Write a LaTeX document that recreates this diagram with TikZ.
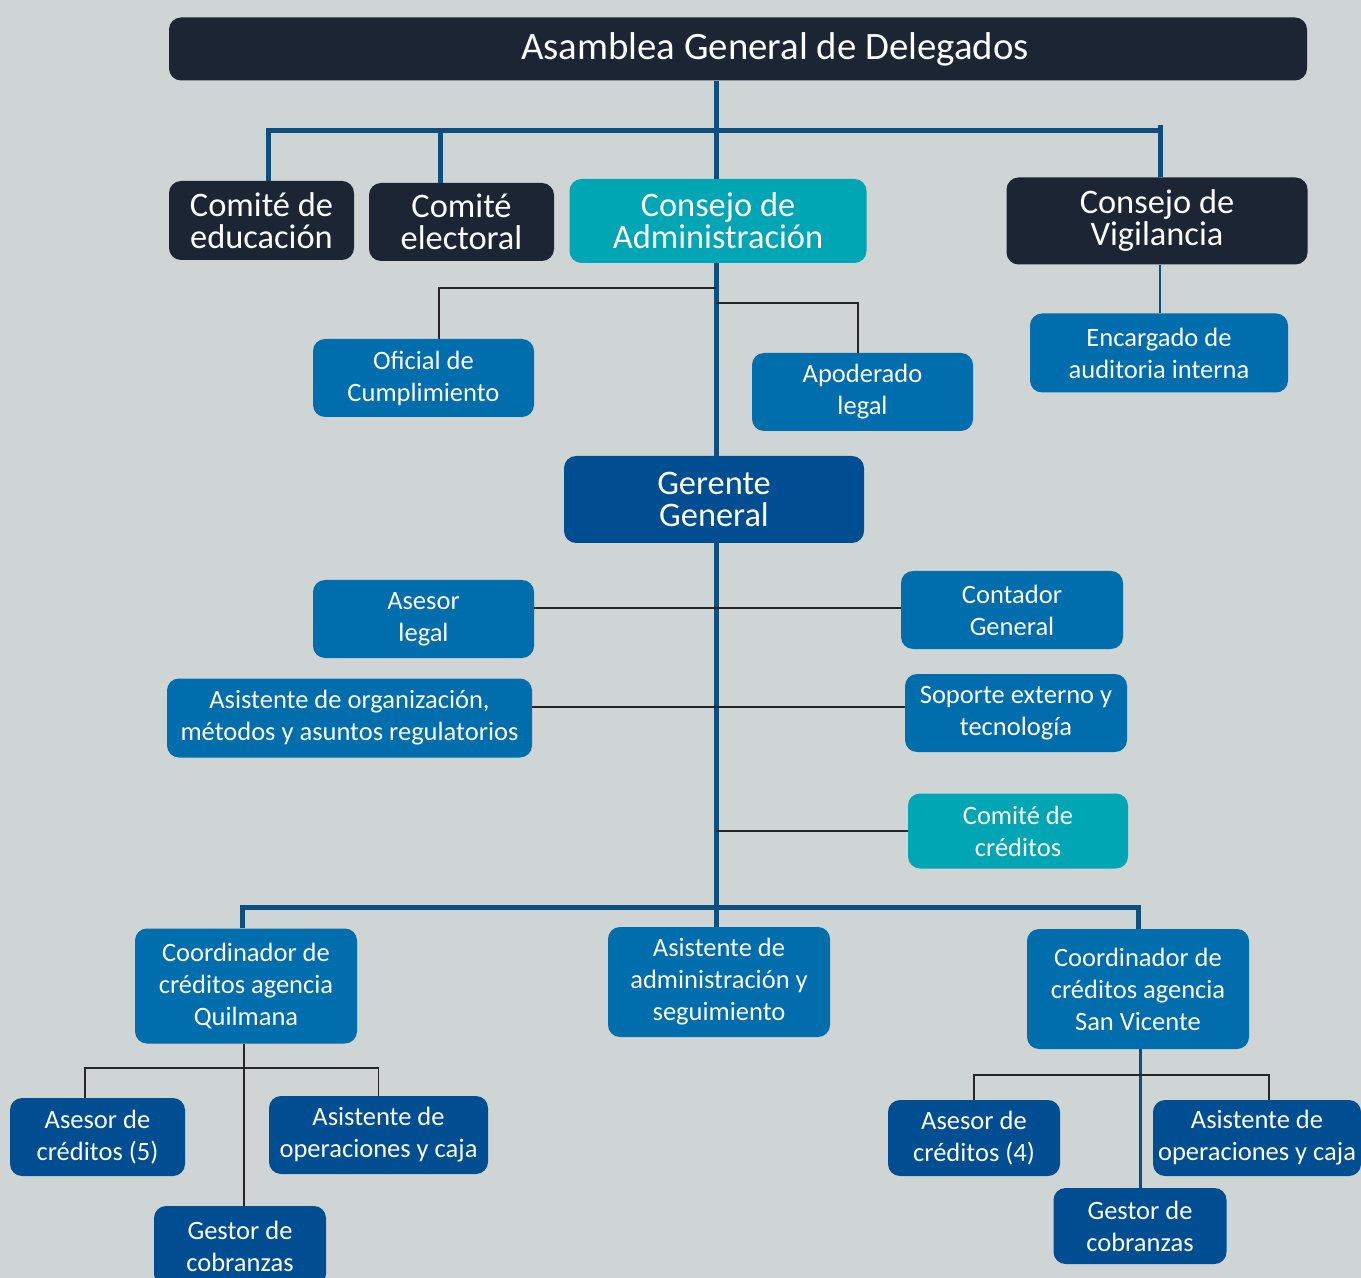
\documentclass[tikz,border=0pt]{standalone}
\usepackage{fontspec}
\setmainfont{Carlito}
\definecolor{fondo}{HTML}{CFD5D5}
\definecolor{oscuro}{HTML}{1B2533}
\definecolor{turquesa}{HTML}{00A6B4}
\definecolor{azul}{HTML}{006DAD}
\definecolor{azulos}{HTML}{004E92}
\definecolor{linea}{HTML}{0C4F7E}
\tikzset{
    caja/.style={rounded corners=6pt, text=white, align=center, inner xsep=1pt, inner ysep=2pt}, % base of every box
    titulo/.style={caja, fill=oscuro, font=\fontsize{19.4}{22}\selectfont},
    directivo/.style={caja, fill=oscuro, font=\fontsize{17.2}{16}\selectfont},
    consejo/.style={caja, fill=turquesa, font=\fontsize{17.2}{16}\selectfont},
    gerencia/.style={caja, fill=azulos, font=\fontsize{17.2}{16}\selectfont},
    unidad/.style={caja, fill=azul, font=\fontsize{13.25}{16}\selectfont},
    comite/.style={caja, fill=turquesa, font=\fontsize{13.25}{16}\selectfont},
    agencia/.style={caja, fill=azulos, font=\fontsize{13.25}{16}\selectfont},
    troncal/.style={draw=linea, line width=2.5pt}, % thick main lines
    rama/.style={draw=black!85, line width=0.7pt}, % thin side lines
}
\begin{document}
\begin{tikzpicture}[x=0.5pt, y=-0.5pt]
    \fill[fondo] (0,0) rectangle (1361,1278);
    \useasboundingbox (0,0) rectangle (1361,1278);

    \node[titulo, minimum width=569pt, minimum height=31.5pt] (asam) at (738,49) {\hspace*{37pt}Asamblea General de Delegados};

    \node[directivo, minimum width=92.5pt, minimum height=39.5pt] (edu) at (261.5,220.5) {Comité de\\educación};
    \node[directivo, minimum width=92.5pt, minimum height=39pt] (ele) at (461.5,222) {Comité\\electoral};
    \node[consejo, minimum width=148.5pt, minimum height=42pt] (adm) at (718,221) {Consejo de\\Administración};
    \node[directivo, minimum width=150.5pt, minimum height=43.5pt] (vig) at (1157,221) {Consejo de\\Vigilancia};

    \node[unidad, minimum width=129pt, minimum height=39.5pt] (enc) at (1159,353) {Encargado de\\auditoria interna};
    \node[unidad, minimum width=110.5pt, minimum height=39pt] (ofi) at (423.5,378) {Oficial de\\Cumplimiento};
    \node[unidad, minimum width=110.5pt, minimum height=39pt] (apo) at (862.5,392) {Apoderado\\legal};

    \node[gerencia, minimum width=150pt, minimum height=43.5pt] (ger) at (714,499.5) {Gerente\\General};

    \node[unidad, minimum width=110.5pt, minimum height=39pt] (ase) at (423.5,619) {Asesor\\legal};
    \node[unidad, minimum width=111pt, minimum height=39pt] (con) at (1012,610) {Contador\\General};
    \node[unidad, minimum width=182.5pt, minimum height=39.5pt] (org) at (349.5,718) {Asistente de organización,\\métodos y asuntos regulatorios};
    \node[unidad, minimum width=111pt, minimum height=39pt] (sop) at (1016,713) {Soporte externo y\\tecnología};
    \node[comite, minimum width=110pt, minimum height=37.5pt] (cre) at (1018,831) {Comité de\\créditos};

    \node[unidad, minimum width=111pt, minimum height=57.5pt] (qui) at (246,986) {Coordinador de\\créditos agencia\\Quilmana};
    \node[unidad, minimum width=111pt, minimum height=55pt] (asi) at (719,982) {Asistente de\\administración y\\seguimiento};
    \node[unidad, minimum width=111pt, minimum height=60pt] (svi) at (1138,989) {Coordinador de\\créditos agencia\\San Vicente};

    \node[agencia, minimum width=87.5pt, minimum height=39pt] (ac5) at (97.5,1137) {Asesor de\\créditos (5)};
    \node[agencia, minimum width=109.5pt, minimum height=39pt] (ao1) at (378.5,1135) {Asistente de\\operaciones y caja};
    \node[agencia, minimum width=86pt, minimum height=40pt] (gl) at (240,1246) {Gestor de\\cobranzas};
    \node[agencia, minimum width=86pt, minimum height=38pt] (ac4) at (974,1138) {Asesor de\\créditos (4)};
    \node[agencia, minimum width=104pt, minimum height=38pt] (ao2) at (1257,1138) {Asistente de\\operaciones y caja};
    \node[agencia, minimum width=86.5pt, minimum height=38pt] (gr) at (1140,1226) {Gestor de\\cobranzas};

    % main trunk
    \coordinate (barra) at (716,131);
    \coordinate (tope) at (1160,125);
    \coordinate (barra2) at (716,907);
    \coordinate (eje) at (716,0);
    \draw[troncal] (eje |- asam.south) -- (eje |- adm.north);
    \draw[troncal] ([xshift=3.25pt]edu.north) |- (barra) -| (tope |- vig.north);
    \draw[troncal] (tope) -- (tope |- vig.north);
    \draw[troncal] ([xshift=-10.75pt]ele.north) -- ([xshift=-10.75pt]ele.north |- barra);
    \draw[troncal] (eje |- adm.south) -- (eje |- ger.north);
    \draw[troncal] (eje |- ger.south) -- (eje |- asi.north);
    \draw[troncal] ([xshift=-2pt]qui.north) |- (barra2) -| (svi.north);

    % side branches
    \coordinate (r1) at (716,288);
    \coordinate (r2) at (716,303);
    \draw[rama] (r1) -| ([xshift=7.75pt]ofi.north);
    \draw[rama] (r2) -| ([xshift=-2.25pt]apo.north);
    \draw[rama, draw=linea] (tope |- vig.south) -- (tope |- enc.north);
    \draw[rama] ([yshift=1pt]con.west -| ase.east) -- ([yshift=1pt]con.west);
    \draw[rama] ([yshift=3pt]sop.west -| org.east) -- ([yshift=3pt]sop.west);
    \draw[rama] (cre.west -| eje) -- (cre.west);

    % agencies
    \coordinate (h1) at (244,1068);
    \coordinate (h2) at (1140,1075);
    \draw[rama] ([xshift=-1pt]qui.south) -- ([xshift=2pt]gl.north);
    \draw[rama] ([xshift=-6.25pt]ac5.north) |- (h1) -| (ao1.north);
    \draw[troncal, line width=1.5pt] (svi.south -| gr.north) -- (gr.north);
    \draw[rama] (ac4.north) |- (h2) -| ([xshift=6pt]ao2.north);
\end{tikzpicture}
\end{document}
